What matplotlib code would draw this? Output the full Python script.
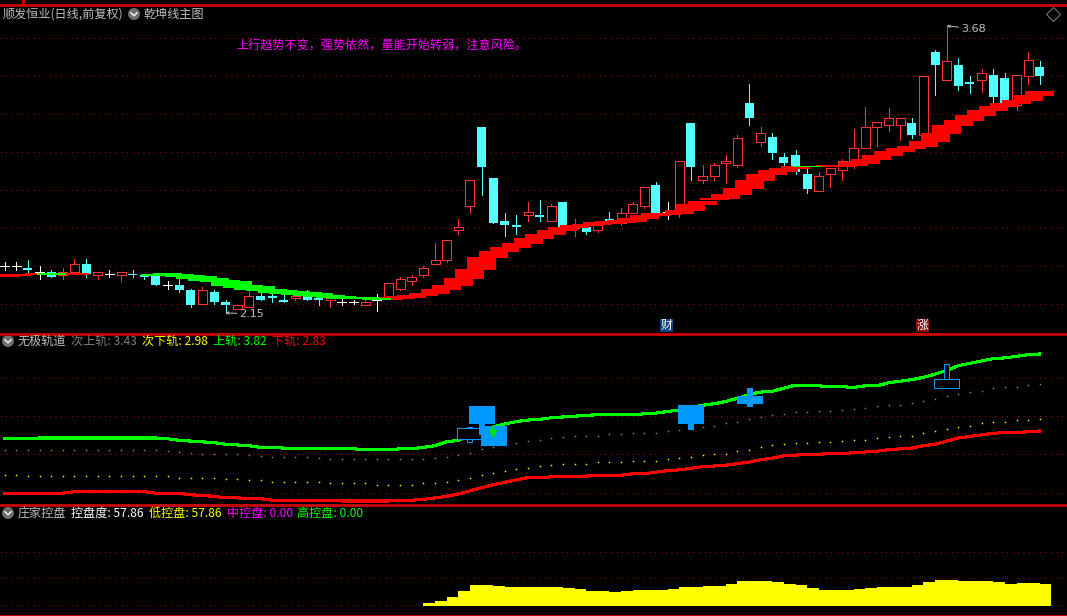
import matplotlib
matplotlib.use("Agg")
import matplotlib.pyplot as plt
from matplotlib.patches import Rectangle, Circle
import numpy as np

plt.rcParams['font.family'] = ['Noto Sans CJK SC', 'DejaVu Sans']

# ---------- main panel: daily candles ----------
opens = [2.40,2.40,2.39,2.37,2.37,2.35,2.37,2.41,2.35,2.36,
 2.35,2.36,2.35,2.35,2.30,2.30,2.27,2.20,2.26,2.21,
 2.17,2.18,2.24,2.24,2.22,2.23,2.26,2.23,2.22,2.21,
 2.21,2.19,2.22,2.23,2.28,2.32,2.35,2.41,2.43,2.59,
 2.72,3.14,2.87,2.64,2.62,2.67,2.67,2.64,2.74,2.60,
 2.61,2.59,2.65,2.63,2.68,2.72,2.83,2.69,2.70,3.16,
 2.86,2.88,2.95,2.94,3.27,3.06,3.09,2.98,2.99,2.89,
 2.80,2.89,2.91,2.96,3.03,3.14,3.15,3.15,3.16,3.10,
 3.54,3.39,3.47,3.38,3.39,3.42,3.40,3.26,3.41,3.46]
closes = [2.40,2.40,2.38,2.37,2.34,2.37,2.41,2.36,2.37,2.36,
 2.37,2.35,2.34,2.30,2.30,2.27,2.19,2.27,2.21,2.19,
 2.19,2.24,2.22,2.23,2.21,2.24,2.22,2.22,2.23,2.21,
 2.21,2.21,2.22,2.31,2.33,2.34,2.39,2.43,2.54,2.61,
 2.86,2.93,2.63,2.62,2.61,2.69,2.66,2.72,2.61,2.62,
 2.58,2.62,2.63,2.68,2.73,2.82,2.68,2.69,2.96,2.93,
 2.88,2.94,2.96,3.08,3.19,3.11,3.00,2.95,2.90,2.81,
 2.88,2.92,2.96,3.03,3.14,3.17,3.19,3.19,3.10,3.41,
 3.47,3.49,3.36,3.37,3.43,3.30,3.27,3.42,3.50,3.41]
highs = [2.42,2.42,2.43,2.40,2.38,2.39,2.44,2.44,2.37,2.38,
 2.37,2.38,2.36,2.35,2.32,2.33,2.28,2.29,2.27,2.22,
 2.19,2.27,2.26,2.26,2.25,2.26,2.27,2.24,2.23,2.23,
 2.22,2.23,2.25,2.31,2.34,2.35,2.40,2.52,2.54,2.65,
 2.86,3.14,2.87,2.68,2.67,2.74,2.75,2.73,2.74,2.65,
 2.61,2.62,2.69,2.71,2.74,2.82,2.85,2.74,2.96,3.16,
 2.94,2.95,2.99,3.10,3.37,3.14,3.11,3.00,3.02,2.92,
 2.90,2.92,2.97,3.13,3.25,3.17,3.24,3.19,3.19,3.41,
 3.55,3.68,3.51,3.41,3.45,3.45,3.43,3.42,3.54,3.49]
lows = [2.38,2.38,2.36,2.33,2.34,2.33,2.36,2.34,2.33,2.34,
 2.32,2.34,2.33,2.30,2.28,2.26,2.18,2.20,2.20,2.15,
 2.17,2.18,2.22,2.21,2.21,2.22,2.22,2.19,2.18,2.19,
 2.20,2.19,2.16,2.23,2.27,2.30,2.34,2.41,2.42,2.57,
 2.68,2.78,2.63,2.56,2.57,2.64,2.64,2.64,2.61,2.56,
 2.57,2.58,2.63,2.62,2.68,2.71,2.68,2.65,2.66,2.86,
 2.84,2.86,2.84,2.93,3.15,3.04,2.97,2.93,2.89,2.79,
 2.80,2.82,2.86,2.92,3.03,3.04,3.12,3.07,3.08,3.10,
 3.31,3.39,3.34,3.32,3.33,3.27,3.27,3.23,3.37,3.37]

# 乾坤线 band (top and bottom of each wide stick)
band_top = [2.355,2.359,2.360,2.361,2.362,2.362,2.362,2.360,2.360,2.360,
 2.360,2.360,2.360,2.358,2.362,2.358,2.353,2.347,2.337,2.327,
 2.319,2.301,2.292,2.280,2.274,2.266,2.260,2.255,2.248,2.242,
 2.237,2.234,2.230,2.235,2.239,2.246,2.257,2.278,2.299,2.337,
 2.385,2.448,2.480,2.502,2.523,2.550,2.571,2.592,2.608,2.619,
 2.624,2.635,2.640,2.646,2.656,2.672,2.683,2.683,2.699,2.731,
 2.747,2.763,2.784,2.816,2.859,2.891,2.912,2.923,2.934,2.934,
 2.934,2.937,2.939,2.955,2.971,2.992,3.013,3.029,3.040,3.067,
 3.109,3.152,3.179,3.205,3.232,3.253,3.269,3.285,3.312,3.333]
band_bot = [2.342,2.347,2.350,2.353,2.351,2.353,2.353,2.355,2.355,2.355,
 2.355,2.355,2.355,2.346,2.347,2.340,2.331,2.321,2.314,2.296,
 2.283,2.274,2.266,2.257,2.251,2.248,2.239,2.235,2.230,2.226,
 2.225,2.223,2.221,2.221,2.225,2.230,2.241,2.251,2.273,2.294,
 2.331,2.379,2.443,2.475,2.496,2.518,2.544,2.566,2.587,2.603,
 2.614,2.619,2.624,2.630,2.635,2.651,2.667,2.672,2.678,2.694,
 2.726,2.752,2.758,2.779,2.811,2.854,2.886,2.902,2.918,2.928,
 2.927,2.928,2.928,2.935,2.946,2.965,2.987,3.008,3.024,3.035,
 3.061,3.104,3.147,3.173,3.200,3.227,3.248,3.264,3.280,3.307]
band_green_bars = [4,7,8,9,10,11,12,13,14,15,16,17,18,19,20,21,22,23,24,25,26,
 27,28,29,30,31,32,69]

main_grid = [3.616,3.414,3.211,3.008,2.806,2.603,2.401,2.198]
main_signal = "上行趋势不变\uff0c强势依然\uff0c量能开始转弱\uff0c注意风险。"

# ---------- middle panel: 无极轨道 ----------
upper_rail = [2.73,2.73,2.73,2.74,2.74,2.74,2.74,2.74,2.74,2.74,
 2.74,2.74,2.74,2.74,2.73,2.71,2.70,2.69,2.68,2.66,
 2.65,2.64,2.62,2.62,2.61,2.61,2.61,2.60,2.60,2.60,
 2.60,2.59,2.59,2.59,2.60,2.60,2.62,2.64,2.69,2.71,
 2.77,2.82,2.88,2.92,2.95,2.97,2.98,3.00,3.01,3.02,
 3.03,3.04,3.04,3.04,3.04,3.05,3.06,3.08,3.10,3.13,
 3.16,3.18,3.21,3.25,3.30,3.33,3.34,3.38,3.42,3.41,
 3.41,3.40,3.40,3.39,3.41,3.41,3.45,3.47,3.49,3.52,
 3.56,3.61,3.67,3.70,3.73,3.76,3.77,3.79,3.81,3.82]
lower_rail = [2.03,2.03,2.03,2.03,2.03,2.03,2.05,2.05,2.05,2.05,
 2.05,2.05,2.05,2.03,2.03,2.03,2.01,2.00,1.99,1.97,
 1.97,1.96,1.96,1.94,1.94,1.94,1.94,1.94,1.94,1.93,
 1.93,1.93,1.93,1.93,1.94,1.94,1.95,1.97,1.99,2.02,
 2.06,2.10,2.14,2.17,2.20,2.23,2.23,2.24,2.24,2.25,
 2.25,2.26,2.26,2.26,2.28,2.28,2.30,2.32,2.33,2.35,
 2.37,2.38,2.39,2.41,2.43,2.46,2.48,2.51,2.52,2.53,
 2.53,2.54,2.54,2.55,2.56,2.57,2.59,2.60,2.61,2.64,
 2.66,2.70,2.74,2.76,2.78,2.80,2.81,2.81,2.82,2.83]
second_upper = [2.58,2.58,2.58,2.58,2.58,2.58,2.58,2.58,2.58,2.58,
 2.58,2.58,2.58,2.58,2.57,2.56,2.55,2.54,2.54,2.53,
 2.53,2.52,2.51,2.50,2.50,2.49,2.49,2.48,2.47,2.47,
 2.47,2.47,2.47,2.47,2.47,2.47,2.47,2.48,2.50,2.52,
 2.55,2.60,2.62,2.65,2.68,2.70,2.72,2.74,2.75,2.76,
 2.77,2.77,2.79,2.79,2.80,2.81,2.81,2.83,2.84,2.85,
 2.88,2.90,2.93,2.94,2.98,3.01,3.03,3.05,3.07,3.07,
 3.09,3.09,3.10,3.11,3.12,3.15,3.16,3.17,3.19,3.21,
 3.24,3.28,3.30,3.33,3.35,3.38,3.39,3.40,3.42,3.43]
second_lower = [2.26,2.26,2.25,2.25,2.25,2.25,2.25,2.25,2.25,2.25,
 2.25,2.25,2.25,2.25,2.25,2.23,2.23,2.22,2.22,2.21,
 2.21,2.20,2.20,2.18,2.18,2.17,2.17,2.17,2.16,2.16,
 2.16,2.16,2.14,2.14,2.14,2.14,2.16,2.16,2.17,2.20,
 2.22,2.26,2.29,2.32,2.34,2.35,2.38,2.39,2.40,2.41,
 2.41,2.43,2.43,2.43,2.44,2.45,2.45,2.47,2.48,2.49,
 2.52,2.53,2.54,2.57,2.59,2.62,2.65,2.66,2.68,2.68,
 2.69,2.69,2.70,2.71,2.72,2.74,2.75,2.76,2.77,2.80,
 2.83,2.85,2.88,2.90,2.93,2.94,2.95,2.97,2.97,2.98]
blue_bars = [40,41,42,59,64,81]
blue_open = [2.73,3.15,2.89,3.16,3.28,3.38]
blue_close = [2.87,2.93,2.65,2.93,3.19,3.50]
blue_high = [2.88,3.15,2.89,3.16,3.38,3.69]
blue_low = [2.69,2.79,2.65,2.86,3.15,3.38]
mid_grid = [3.51,3.02,2.53,2.035]

# ---------- bottom panel: 庄家控盘 ----------
control_bars = list(range(36, 90))
control = [7.9,13.2,23.7,39.5,55.2,55.2,52.6,50.0,50.0,50.0,
 50.0,50.0,47.3,44.7,39.5,39.5,36.8,39.5,42.1,42.1,
 42.1,44.7,50.0,50.0,52.6,52.6,57.86,65.8,65.8,65.8,
 63.1,57.86,55.2,47.3,42.1,42.1,42.1,44.7,47.3,50.0,
 50.0,50.0,55.2,63.1,68.4,68.4,65.8,65.8,65.8,63.1,
 57.86,60.5,60.5,57.86]
bottom_grid = [142.8,72.8,1.8]

# ---------- figure ----------
W, H = 1067, 616
BAR0, STEP = 4.7, 11.63
PX = 0.72  # one pixel in points
RED, GREEN, CYAN, CAND_RED = '#FF0000', '#00FF00', '#54FFFF', '#FF3232'
BLUE = '#0099FF'
GRID = '#A80000'
SEP = '#C00000'
TXT = '#C0C0C0'

fig = plt.figure(figsize=(W/100, H/100), dpi=100, facecolor='black')

def panel(y0, y1, ylo, yhi, grid):
    ax = fig.add_axes([0, 1-y1/H, 1, (y1-y0)/H], facecolor='none')
    ax.set_xlim((0-BAR0)/STEP, (W-BAR0)/STEP)
    ax.set_ylim(ylo, yhi)
    ax.set_xticks([])
    ax.set_yticks(grid)
    ax.tick_params(left=False, labelleft=False)
    ax.grid(True, axis='y', color=GRID, lw=PX, ls=(0, (1, 4.5)), zorder=0)
    ax.set_axisbelow(True)
    for s in ax.spines.values():
        s.set_visible(False)
    return ax

ax1 = panel(5, 333, 2.043, 3.791, main_grid)
ax2 = panel(334, 504, 1.891, 4.077, mid_grid)
ax3 = panel(505, 615, -23.7, 265.6, bottom_grid)

# candles
x = np.arange(len(opens))
o, c, h, l = map(np.array, (opens, closes, highs, lows))
cols = np.where(c > o, CAND_RED, np.where(c < o, CYAN, '#FFFFFF'))
ax1.vlines(x, l, h, colors=cols, lw=PX, zorder=2, antialiased=False, capstyle='butt')
BW = 9/STEP
up = c > o
dn = c < o
fl = c == o
ax1.bar(x[up], (c-o)[up], bottom=o[up], width=BW, facecolor='black',
        edgecolor=CAND_RED, lw=PX, zorder=3, antialiased=False)
ax1.bar(x[dn], (o-c)[dn], bottom=c[dn], width=BW, facecolor=CYAN,
        edgecolor='none', lw=0, zorder=3, antialiased=False)
ax1.hlines(o[fl], x[fl]-BW/2, x[fl]+BW/2, colors='#FFFFFF', lw=PX, zorder=3,
           antialiased=False, capstyle='butt')

# band: red sticks, then green sticks on top
SW = 29/STEP
bt, bb = np.array(band_top), np.array(band_bot)
gm = np.isin(x, band_green_bars)
ax1.bar(x[~gm], (bt-bb)[~gm], bottom=bb[~gm], width=SW, color=RED, lw=0, zorder=4, antialiased=False)
ax1.bar(x[gm], (bt-bb)[gm], bottom=bb[gm], width=SW, color=GREEN, lw=0, zorder=5, antialiased=False)

# extreme price labels
for xi, yi, lab, off in ((81, highs[81], '3.68', (10.5, -2.2)), (19, lows[19], '2.15', (10, -0.7))):
    ax1.annotate(lab, xy=(xi, yi), xytext=off, textcoords='offset points', color=TXT,
                 fontsize=8.0, va='center', ha='left', family='DejaVu Sans',
                 arrowprops=dict(arrowstyle='->', color=TXT, lw=PX, shrinkA=0, shrinkB=0,
                                 mutation_scale=4), zorder=6)

# middle panel
ax2.plot(x, upper_rail, color=GREEN, lw=1.5, zorder=3, antialiased=False)
ax2.plot(x, lower_rail, color=RED, lw=1.5, zorder=3, antialiased=False)
ax2.plot(x, second_upper, ls='none', marker='s', ms=1.05, mew=0, color='#8C8C8C', zorder=2)
ax2.plot(x, second_lower, ls='none', marker='s', ms=1.05, mew=0, color='#FFFF00', zorder=2)
BBW = 25/STEP
for k, (b, op, cl, hi, lo) in enumerate(zip(blue_bars, blue_open, blue_close, blue_high, blue_low)):
    hollow = cl > op
    ax2.bar(b, hi-lo, bottom=lo, width=5/STEP, facecolor='black' if hollow else BLUE,
            edgecolor=BLUE, lw=PX, zorder=4+k, antialiased=False)
    ax2.bar(b, abs(cl-op), bottom=min(op, cl), width=BBW, facecolor='black' if hollow else BLUE,
            edgecolor=BLUE, lw=PX, zorder=4+k, antialiased=False)
ax2.annotate('', xy=(42, 2.73), xytext=(42, 2.89),
             arrowprops=dict(arrowstyle='-|>', color='#00E000', lw=1.6, mutation_scale=10,
                             shrinkA=0, shrinkB=0), zorder=12)

# bottom panel
ax3.bar(np.array(control_bars)+0.5, control, width=1.0, color='#FFFF00', lw=0, zorder=3, antialiased=False)

# ---------- overlay: frame, captions, icons ----------
ov = fig.add_axes([0, 0, 1, 1], facecolor='none')
ov.set_xlim(0, W)
ov.set_ylim(H, 0)
ov.axis('off')
for yy in (4.5, 333.5, 504.5, 615.5):
    ov.plot([0, W], [yy, yy], color=SEP, lw=1.0, antialiased=False, solid_capstyle='butt')
ov.plot([23, 23], [0, 4], color=SEP, lw=1.0, antialiased=False)

def label(px, py, s, col, fs=8.7):
    ov.text(px, py, s, color=col, fontsize=fs, ha='left', va='center')

def icon(px, py):
    ov.add_patch(Circle((px, py), 6, color='#6E6E6E', lw=0))
    ov.plot([px-3, px, px+3], [py-1.2, py+1.8, py-1.2], color='#F0F0F0', lw=1.1)

label(3, 14, '顺发恒业(日线,前复权)', TXT)
icon(134, 14)
label(143, 14, '乾坤线主图', TXT)
label(236, 46, main_signal, '#FF00FF')
ov.plot([1053], [14], marker='D', ms=7, mfc='none', mec='#808080', mew=0.7)

icon(8, 341)
label(18, 341, '无极轨道', TXT)
label(71, 341, '次上轨: %.2f' % second_upper[-1], '#808080')
label(142, 341, '次下轨: %.2f' % second_lower[-1], '#FFFF00')
label(213, 341, '上轨: %.2f' % upper_rail[-1], GREEN)
label(272, 341, '下轨: %.2f' % lower_rail[-1], RED)

icon(8, 513)
label(18, 513, '庄家控盘', TXT)
label(71, 513, '控盘度: %.2f' % control[-1], '#FFFFFF')
label(149, 513, '低控盘: %.2f' % control[-1], '#FFFF00')
label(227, 513, '中控盘: 0.00', '#FF00FF')
label(297, 513, '高控盘: 0.00', GREEN)

for px, ch, bg in ((660, '财', '#0B3F7F'), (916, '涨', '#8B0A0A')):
    ov.add_patch(Rectangle((px, 319), 13, 13, color=bg, lw=0))
    ov.text(px+6.5, 325.3, ch, color='#FFFFFF', fontsize=8.6, ha='center', va='center')

fig.savefig('out.png', dpi=100, facecolor='black')
